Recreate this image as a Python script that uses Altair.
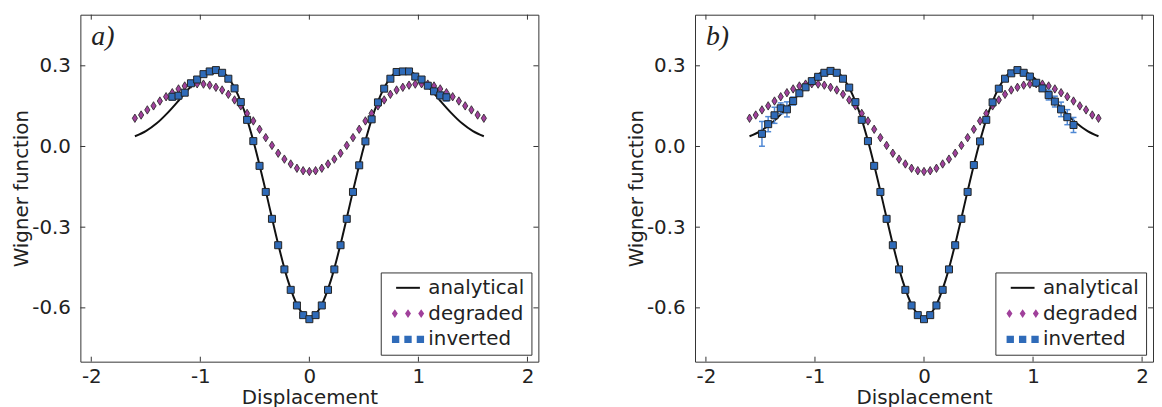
import altair as alt
import pandas as pd

# ---------------- data ----------------
# sampling grid of the measured / degraded points (57 points, -1.6 .. 1.6)
GRID = [-1.600, -1.543, -1.486, -1.429, -1.371, -1.314, -1.257, -1.200, -1.143, -1.086,
        -1.029, -0.971, -0.914, -0.857, -0.800, -0.743, -0.686, -0.629, -0.571, -0.514,
        -0.457, -0.400, -0.343, -0.286, -0.229, -0.171, -0.114, -0.057, 0.000, 0.057,
        0.114, 0.171, 0.229, 0.286, 0.343, 0.400, 0.457, 0.514, 0.571, 0.629,
        0.686, 0.743, 0.800, 0.857, 0.914, 0.971, 1.029, 1.086, 1.143, 1.200,
        1.257, 1.314, 1.371, 1.429, 1.486, 1.543, 1.600]

DEGRADED = [0.105, 0.117, 0.136, 0.151, 0.169, 0.185, 0.200, 0.214, 0.225, 0.232,
            0.233, 0.232, 0.228, 0.220, 0.210, 0.194, 0.173, 0.151, 0.123, 0.095,
            0.064, 0.033, 0.004, -0.025, -0.047, -0.065, -0.081, -0.090, -0.093, -0.090,
            -0.081, -0.065, -0.047, -0.025, 0.004, 0.033, 0.064, 0.095, 0.123, 0.151,
            0.173, 0.194, 0.210, 0.220, 0.228, 0.232, 0.233, 0.232, 0.225, 0.214,
            0.200, 0.185, 0.169, 0.151, 0.136, 0.117, 0.105]

AN_X = [-1.6, -1.5, -1.4, -1.3, -1.2, -1.1, -1.0, -0.9, -0.8, -0.7, -0.6, -0.5, -0.4,
        -0.3, -0.2, -0.1, 0.0, 0.1, 0.2, 0.3, 0.4, 0.5, 0.6, 0.7, 0.8, 0.9, 1.0,
        1.1, 1.2, 1.3, 1.4, 1.5, 1.6]
AN_W = [0.038, 0.057, 0.086, 0.125, 0.170, 0.217, 0.258, 0.282, 0.276, 0.229, 0.136,
        0.000, -0.166, -0.340, -0.494, -0.599, -0.637, -0.599, -0.494, -0.340, -0.166,
        0.000, 0.136, 0.229, 0.276, 0.282, 0.258, 0.217, 0.170, 0.125, 0.086, 0.057, 0.038]

# panel a) inverted points: grid indices 6 .. 50
INV_A = [0.185, 0.189, 0.200, 0.235, 0.249, 0.269, 0.279, 0.284, 0.274, 0.252,
         0.216, 0.165, 0.099, 0.020, -0.072,
         -0.169, -0.269, -0.367, -0.457, -0.533, -0.591, -0.627, -0.642, -0.627, -0.591,
         -0.533, -0.457, -0.367, -0.269, -0.169,
         -0.070, 0.019, 0.101, 0.164, 0.215, 0.252, 0.277, 0.279, 0.279, 0.260,
         0.249, 0.226, 0.205, 0.190, 0.183]
ERR_A = [0.012, 0.010, 0.008, 0.006, 0.005, 0.005, 0.005, 0.005, 0.005, 0.005,
         0.005, 0.005, 0.005, 0.005, 0.005,
         0.005, 0.005, 0.005, 0.005, 0.005, 0.005, 0.005, 0.005, 0.005, 0.005,
         0.005, 0.005, 0.005, 0.005, 0.005,
         0.005, 0.005, 0.005, 0.005, 0.005, 0.005, 0.005, 0.005, 0.005, 0.005,
         0.006, 0.007, 0.009, 0.012, 0.014]

# panel b) inverted points: grid indices 2 .. 52
INV_B = [0.047, 0.083, 0.116, 0.142, 0.138, 0.169, 0.198, 0.220, 0.243, 0.259,
         0.274, 0.281, 0.274, 0.252, 0.219, 0.165, 0.099, 0.020, -0.072,
         -0.169, -0.269, -0.367, -0.457, -0.533, -0.591, -0.627, -0.642, -0.627, -0.591,
         -0.533, -0.457, -0.367, -0.269, -0.169,
         -0.069, 0.019, 0.099, 0.164, 0.215, 0.252, 0.272, 0.284, 0.274, 0.260,
         0.237, 0.216, 0.191, 0.167, 0.138, 0.109, 0.080]
ERR_B = [0.046, 0.028, 0.030, 0.020, 0.028, 0.015, 0.010, 0.007, 0.006, 0.005,
         0.005, 0.005, 0.005, 0.005, 0.005, 0.005, 0.005, 0.005, 0.005,
         0.005, 0.005, 0.005, 0.005, 0.005, 0.005, 0.005, 0.005, 0.005, 0.005,
         0.005, 0.005, 0.005, 0.005, 0.005,
         0.005, 0.005, 0.005, 0.005, 0.005, 0.005, 0.005, 0.005, 0.005, 0.006,
         0.008, 0.010, 0.018, 0.020, 0.027, 0.028, 0.028]

X_TICKS = [-2, -1, 0, 1, 2]
Y_TICKS = [-0.6, -0.3, 0.0, 0.3]
SERIES = ["analytical", "degraded", "inverted"]
PANEL_LABELS = ["a)", "b)"]

# ---------------- styling ----------------
W, H = 462, 350
FONT = "DejaVu Sans"
TXT = "#222222"
FRAME = "#333333"
PURPLE = "#a0409b"
BLUE = "#2f6bb9"
EBAR = "#4f88d4"
EDGE = "#222222"
DIAMOND = "M0,-1L0.62,0L0,1L-0.62,0Z"
LEG_LINE = "M-1.2,-0.1L1.2,-0.1L1.2,0.1L-1.2,0.1Z"
LEG_DIAM = ("M-1.33,-0.45L-1.03,0L-1.33,0.45L-1.63,0Z "
            "M0,-0.45L0.3,0L0,0.45L-0.3,0Z "
            "M1.33,-0.45L1.63,0L1.33,0.45L1.03,0Z")
LEG_SQ = ("M-1.62,-0.37L-0.88,-0.37L-0.88,0.37L-1.62,0.37Z "
          "M-0.37,-0.37L0.37,-0.37L0.37,0.37L-0.37,0.37Z "
          "M0.88,-0.37L1.62,-0.37L1.62,0.37L0.88,0.37Z")

xscale = alt.Scale(domain=[-2.1, 2.1], nice=False, zero=False)
yscale = alt.Scale(domain=[-0.8, 0.49], nice=False, zero=False)
xaxis = alt.Axis(values=X_TICKS, tickSize=0, domain=False, grid=False,
                 labelPadding=5, titlePadding=1, labelFlush=False,
                 labelExpr="datum.value < 0 ? '-' + format(-datum.value, 'd') : format(datum.value, 'd')")
yaxis = alt.Axis(values=Y_TICKS, tickSize=0, domain=False, grid=False,
                 labelPadding=10, titlePadding=0, labelFlush=False,
                 labelExpr="datum.value < 0 ? '-' + format(-datum.value, '.1f') : format(datum.value, '.1f')")


def X(field):
    return alt.X(f"{field}:Q", scale=xscale, axis=xaxis, title="Displacement")


def Y(field):
    return alt.Y(f"{field}:Q", scale=yscale, axis=yaxis, title="Wigner function")


df_an = pd.DataFrame({"x": AN_X, "w": AN_W})
df_deg = pd.DataFrame({"x": GRID, "w": DEGRADED})
df_xt = pd.DataFrame({"t": X_TICKS})
df_yt = pd.DataFrame({"t": Y_TICKS})
df_leg = pd.DataFrame({"series": SERIES, "lx": [0.0, 0.0, 0.0], "ly": [0.0, 0.0, 0.0]})


def panel(label, sq_x, sq_y, sq_err):
    df_sq = pd.DataFrame({"x": sq_x, "w": sq_y, "e": sq_err})
    df_sq["lo"] = df_sq["w"] - df_sq["e"]
    df_sq["hi"] = df_sq["w"] + df_sq["e"]

    line = alt.Chart(df_an).mark_line(color="#111111", strokeWidth=2,
                                      interpolate="monotone").encode(x=X("x"), y=Y("w"))
    diam = alt.Chart(df_deg).mark_point(shape=DIAMOND, filled=True, fill=PURPLE, stroke=EDGE,
                                        strokeWidth=0.8, size=72, opacity=1).encode(x=X("x"), y=Y("w"))
    err = alt.Chart(df_sq).mark_rule(color=EBAR, strokeWidth=1.5).encode(x=X("x"), y=Y("lo"), y2="hi")
    cap_lo = alt.Chart(df_sq).mark_tick(orient="horizontal", size=6, thickness=1.5,
                                        color=EBAR, opacity=1).encode(x=X("x"), y=Y("lo"))
    cap_hi = alt.Chart(df_sq).mark_tick(orient="horizontal", size=6, thickness=1.5,
                                        color=EBAR, opacity=1).encode(x=X("x"), y=Y("hi"))
    sq = alt.Chart(df_sq).mark_square(size=50, color=BLUE, stroke=EDGE, strokeWidth=1,
                                      opacity=1).encode(x=X("x"), y=Y("w"))

    tb = alt.Chart(df_xt).mark_rule(color=FRAME, strokeWidth=1).encode(
        x=X("t"), y=alt.value(H), y2=alt.value(H - 5))
    tt = alt.Chart(df_xt).mark_rule(color=FRAME, strokeWidth=1).encode(
        x=X("t"), y=alt.value(0), y2=alt.value(5))
    tl = alt.Chart(df_yt).mark_rule(color=FRAME, strokeWidth=1).encode(
        y=Y("t"), x=alt.value(0), x2=alt.value(5))
    tr = alt.Chart(df_yt).mark_rule(color=FRAME, strokeWidth=1).encode(
        y=Y("t"), x=alt.value(W), x2=alt.value(W - 5))

    leg = alt.Legend(title="\u00a0", titleOrient="right", titlePadding=2, titleFontSize=20,
                     titleFont=FONT,
                     orient="bottom-right", offset=7, symbolSize=400,
                     labelFontSize=20, labelFont=FONT, labelColor=TXT, padding=5,
                     symbolOffset=12, labelOffset=10, rowPadding=5,
                     strokeColor=FRAME, fillColor="white", symbolOpacity=1,
                     symbolStrokeColor=EDGE, symbolStrokeWidth=1)
    legend_layer = alt.Chart(df_leg).transform_filter("false").mark_point(
        filled=True, opacity=1, stroke=EDGE, strokeWidth=1).encode(
        x=X("lx"), y=Y("ly"),
        shape=alt.Shape("series:N", sort=None,
                        scale=alt.Scale(domain=SERIES, range=[LEG_LINE, LEG_DIAM, LEG_SQ]),
                        legend=leg),
        fill=alt.Fill("series:N", sort=None,
                      scale=alt.Scale(domain=SERIES, range=["#111111", PURPLE, BLUE]),
                      legend=leg),
    )

    lab = alt.Chart(pd.DataFrame({"lab": [label]})).mark_text(
        font="Liberation Serif", fontStyle="italic", fontSize=28, align="left",
        baseline="alphabetic", color=TXT).encode(text="lab:N", x=alt.value(11), y=alt.value(31))

    return alt.layer(line, diam, err, cap_lo, cap_hi, sq, tb, tt, tl, tr,
                     legend_layer, lab).properties(width=W, height=H)


pa = panel(PANEL_LABELS[0], GRID[6:51], INV_A, ERR_A)
pb = panel(PANEL_LABELS[1], GRID[2:53], INV_B, ERR_B)

chart = alt.hconcat(pa, pb, spacing=87).resolve_scale(
    shape="independent", fill="independent"
).resolve_legend(
    shape="independent", fill="independent"
).configure_view(
    stroke=FRAME, strokeWidth=1
).configure_axis(
    labelFont=FONT, titleFont=FONT, labelFontSize=20, titleFontSize=20,
    labelColor=TXT, titleColor=TXT, titleFontWeight="normal"
).properties(
    padding={"left": 3, "top": 4, "right": 0, "bottom": 0}
)

chart.save("out.html", embed_options={"renderer": "svg", "actions": False})
